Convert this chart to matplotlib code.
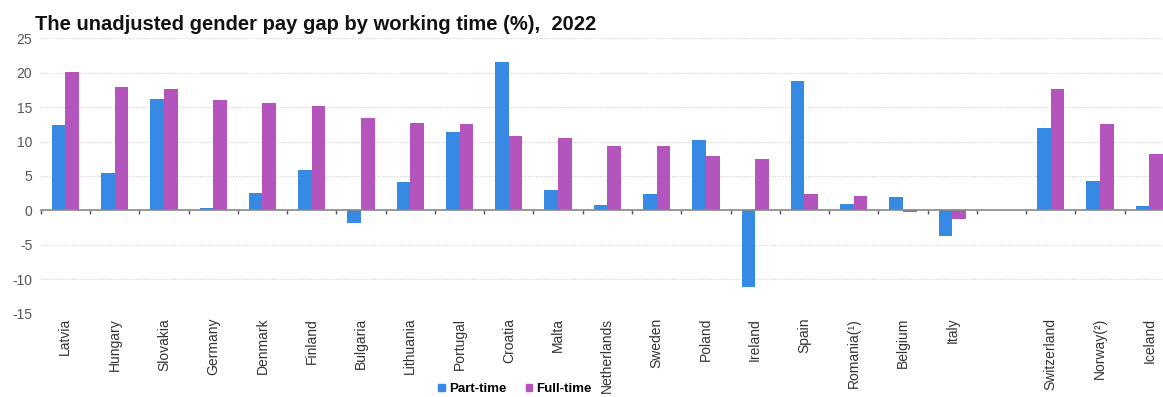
import matplotlib.pyplot as plt
import numpy as np
from matplotlib.patches import Patch
from matplotlib.transforms import blended_transform_factory

plt.rcParams['font.family'] = ['Liberation Sans', 'DejaVu Sans']
plt.rcParams['axes.unicode_minus'] = False

# countries in order, '' is the gap between EU and EFTA countries
countries = ['Latvia', 'Hungary', 'Slovakia', 'Germany', 'Denmark', 'Finland',
             'Bulgaria', 'Lithuania', 'Portugal', 'Croatia', 'Malta', 'Netherlands',
             'Sweden', 'Poland', 'Ireland', 'Spain', 'Romania(¹)', 'Belgium', 'Italy',
             '', 'Switzerland', 'Norway(²)', 'Iceland']
part_time = [12.4, 5.5, 16.2, 0.4, 2.5, 5.9, -1.9, 4.1, 11.4, 21.6, 3.0, 0.8,
             2.4, 10.2, -11.1, 18.8, 1.0, 1.9, -3.7, np.nan, 12.0, 4.2, 0.7]
full_time = [20.1, 17.9, 17.6, 16.0, 15.6, 15.1, 13.4, 12.7, 12.6, 10.8, 10.5, 9.3,
             9.3, 7.9, 7.5, 2.4, 2.1, -0.3, -1.2, np.nan, 17.6, 12.6, 8.2]
yticks = [-15, -10, -5, 0, 5, 10, 15, 20, 25]

blue = '#378ae3'
purple = '#b455bd'

fig = plt.figure(figsize=(11.63, 3.97), dpi=100)
ax = fig.add_axes([40.7 / 1163, 1 - 313.7 / 397, (1174 - 40.7) / 1163, (313.7 - 38.2) / 397])

x = np.arange(len(countries))
w = 0.277
ax.bar(x - w / 2, part_time, w, color=blue, zorder=3)
ax.bar(x + w / 2, full_time, w, color=purple, zorder=3)

ax.set_xlim(-0.5, len(countries) - 0.5)
ax.set_ylim(-15, 25)
ax.set_yticks(yticks)
ax.tick_params(axis='y', length=0, labelsize=10, colors='#555555', pad=6)
for t in yticks:
    if t != 0:
        ax.axhline(t, color='#d0d0d0', lw=0.8, ls=(0, (1, 1.5)), zorder=1)

# zero line with boundary ticks
for s in ['top', 'right', 'left']:
    ax.spines[s].set_visible(False)
ax.spines['bottom'].set_position(('data', 0))
ax.spines['bottom'].set_color('#888888')
ax.spines['bottom'].set_linewidth(1.2)
ax.spines['bottom'].set_zorder(4)
ax.set_xticks(np.arange(len(countries) + 1) - 0.5)
ax.set_xticklabels([])
ax.tick_params(axis='x', length=3, width=1, color='#555555', direction='out')

trans = blended_transform_factory(ax.transData, ax.transAxes)
for i, c in enumerate(countries):
    ax.text(i, -0.015, c, rotation=90, ha='center', va='top', fontsize=10,
            color='#333333', transform=trans)

fig.text(35 / 1163, 1 - 25 / 397, 'The unadjusted gender pay gap by working time (%),  2022',
         fontsize=14.5, fontweight='bold', va='center', ha='left', color='#111111')

handles = [Patch(color=blue, label='Part-time'), Patch(color=purple, label='Full-time')]
leg = fig.legend(handles=handles, loc='center', bbox_to_anchor=(515 / 1163, 1 - 389 / 397),
                 ncol=2, frameon=False, handlelength=0.5, handleheight=0.5,
                 handletextpad=0.3, columnspacing=1.5,
                 prop={'size': 9.5, 'weight': 'bold'})

fig.savefig('out.png', dpi=100)
